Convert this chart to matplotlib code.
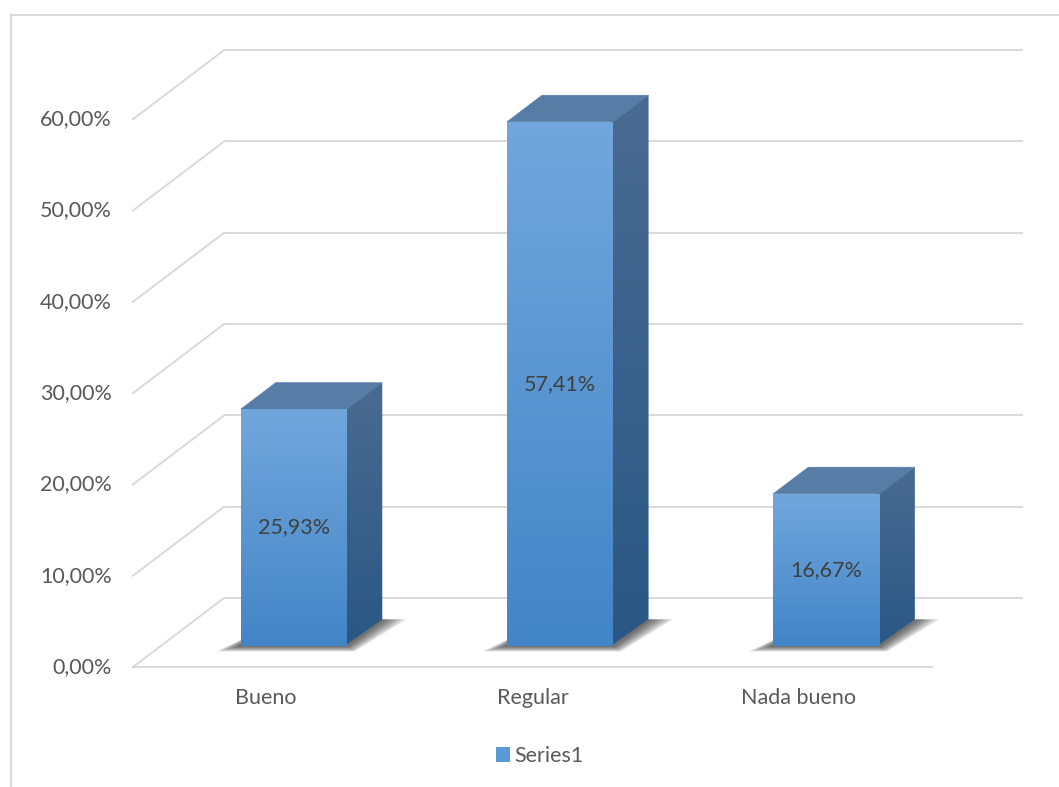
import numpy as np
import matplotlib.pyplot as plt
from matplotlib.patches import Polygon, Patch
from matplotlib.lines import Line2D

plt.rcParams['font.family'] = ['Lato', 'DejaVu Sans']

categorias = ["Bueno", "Regular", "Nada bueno"]
valores = [25.93, 57.41, 16.67]          # porcentajes
etiquetas = ["25,93%", "57,41%", "16,67%"]
niveles = [0, 10, 20, 30, 40, 50, 60]
niveles_txt = ["0,00%", "10,00%", "20,00%", "30,00%", "40,00%", "50,00%", "60,00%"]

# proyeccion oblicua (profundidad)
DX, DY = 0.342, 7.56
D0, D1 = 0.305, 0.69     # profundidad de las barras
ANCHO = 0.4

def proj(x, y, d):
    return (x + d * DX, y + d * DY)

W, H = 1059, 787
fig = plt.figure(figsize=(W / 100, H / 100), dpi=100)
ax = fig.add_axes([0, 0, 1, 1])
ax.set_axis_off()

px_x, px_y = 266.3, 9.13
x_org, y_org = 133, 667
xlim = (-0.5 - x_org / px_x, -0.5 + (W - x_org) / px_x)
ylim = ((y_org - H) / px_y, y_org / px_y)

gris = '#d9d9d9'
n = len(categorias)

# rejilla: pared del fondo y pared izquierda
for v in niveles:
    a = proj(-0.5, v, 1)
    b = proj(n - 0.5, v, 1)
    ax.plot([a[0], b[0]], [a[1], b[1]], color=gris, lw=1.4, zorder=1, solid_capstyle='butt')
    c = proj(-0.5, v, 0)
    ax.plot([c[0], a[0]], [c[1], a[1]], color=gris, lw=1.4, zorder=1)
# borde frontal del suelo
f0 = proj(-0.5, 0, 0)
f1 = proj(n - 0.5, 0, 0)
ax.plot([f0[0], f1[0]], [f0[1], f1[1]], color=gris, lw=1.4, zorder=1)

# etiquetas del eje
for v, t in zip(niveles, niveles_txt):
    p = proj(-0.5, v, 0)
    ax.text(p[0] - 0.08, p[1], t, ha='right', va='center', fontsize=15.5, color='#595959')


def degradado(verts, c_top, c_bot, z):
    poly = Polygon(verts, closed=True, facecolor='none', edgecolor='none', zorder=z)
    ax.add_patch(poly)
    xs = [p[0] for p in verts]
    ys = [p[1] for p in verts]
    t = np.linspace(0, 1, 256)[:, None, None]
    img = np.array(c_top)[None, None, :] * (1 - t) + np.array(c_bot)[None, None, :] * t
    im = ax.imshow(img, extent=(min(xs), max(xs), min(ys), max(ys)), origin='upper',
                   aspect='auto', zorder=z, interpolation='bilinear')
    im.set_clip_path(poly)


def rgb(h):
    h = h.lstrip('#')
    return [int(h[i:i + 2], 16) / 255 for i in (0, 2, 4)]


for i, (v, lab) in enumerate(zip(valores, etiquetas)):
    x0, x1 = i - ANCHO / 2, i + ANCHO / 2
    # sombra difusa
    for k in range(6):
        e = 0.09 * (1 - k / 6)
        ey = 0.6 * (1 - k / 6)
        sh = [proj(x0 - e, -ey, D0), proj(x1 + e * 0.3, -ey, D0),
              proj(x1 + e, 0, D1), proj(x0 + e * 0.3, 0, D1)]
        ax.add_patch(Polygon(sh, closed=True, facecolor='#202020', edgecolor='none',
                             alpha=0.15, zorder=2))
    xs = x1 - 0.01   # ligero solape para evitar la junta clara
    lado = [proj(xs, 0, D0), proj(x1, 0, D1), proj(x1, v, D1), proj(xs, v + 0.2, D0)]
    techo = [proj(x0, v, D0), proj(x1, v, D0), proj(x1, v, D1), proj(x0, v, D1)]
    frente = [proj(x0, 0, D0), proj(x1, 0, D0), proj(x1, v, D0), proj(x0, v, D0)]
    degradado(lado, rgb('#4a6b91'), rgb('#2a5785'), 3)
    ax.add_patch(Polygon(techo, closed=True, facecolor='#577ca5', edgecolor='#577ca5',
                         lw=0.4, zorder=3.05))
    degradado(frente, rgb('#72a7dd'), rgb('#4285c7'), 3.1)
    cx, cy = proj(i, v / 2, D0)
    ax.text(cx, cy, lab, ha='center', va='center', fontsize=15.5, color='#404040', zorder=5)
    bx, by = proj(i, 0, 0)
    ax.text(bx, by - 3.4, categorias[i], ha='center', va='center', fontsize=15.5, color='#595959')

ax.set_xlim(*xlim)
ax.set_ylim(*ylim)

# borde del grafico
fig.add_artist(Line2D([11 / W, 11 / W], [0, 1 - 15 / H], color=gris, lw=1.5))
fig.add_artist(Line2D([11 / W, 1], [1 - 15 / H, 1 - 15 / H], color=gris, lw=1.5))

fig.legend(handles=[Patch(facecolor='#5b9bd5', edgecolor='none', label='Series1')],
           loc='center', bbox_to_anchor=(540 / W, 1 - 756 / H), frameon=False,
           fontsize=15.5, handlelength=0.65, handleheight=0.65, handletextpad=0.2,
           labelcolor='#595959')

fig.savefig('out.png', dpi=100)
